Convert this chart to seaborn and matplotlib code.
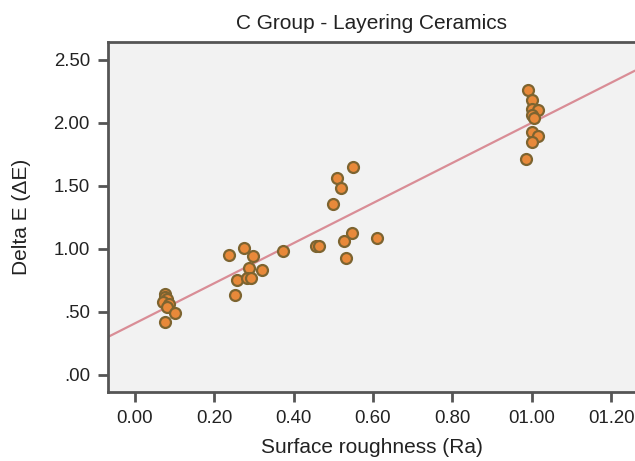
import matplotlib
matplotlib.use("Agg")
import matplotlib.pyplot as plt
import pandas as pd
import seaborn as sns

# Surface roughness (Ra) and colour change (delta E)
roughness = [
    0.075, 0.075, 0.08, 0.07, 0.085, 0.08, 0.10, 0.075,
    0.236, 0.274, 0.297, 0.372, 0.287, 0.32, 0.257, 0.282, 0.292, 0.252,
    0.549, 0.51, 0.52, 0.50, 0.546, 0.527, 0.61, 0.455, 0.465, 0.533,
    0.99, 1.00, 1.00, 1.015, 1.00, 1.005, 1.00, 1.015, 1.00, 0.985,
]
delta_e = [
    0.64, 0.62, 0.60, 0.58, 0.56, 0.54, 0.49, 0.42,
    0.95, 1.01, 0.94, 0.98, 0.85, 0.83, 0.75, 0.77, 0.77, 0.63,
    1.65, 1.56, 1.48, 1.36, 1.13, 1.06, 1.09, 1.02, 1.02, 0.93,
    2.26, 2.18, 2.11, 2.10, 2.06, 2.04, 1.93, 1.90, 1.85, 1.71,
]
x_ticks = [0.0, 0.2, 0.4, 0.6, 0.8, 1.0, 1.2]
x_tick_labels = ["0.00", "0.20", "0.40", "0.60", "0.80", "01.00", "01.20"]
y_ticks = [0.0, 0.5, 1.0, 1.5, 2.0, 2.5]
y_tick_labels = [".00", ".50", "1.00", "1.50", "2.00", "2.50"]

df = pd.DataFrame({"Ra": roughness, "dE": delta_e})

sns.set_style("ticks", {"axes.facecolor": "#f2f2f2"})
plt.rcParams["font.family"] = ["Liberation Sans", "DejaVu Sans"]

fig = plt.figure(figsize=(6.35, 4.61), dpi=100)
ax = fig.add_axes([0.170, 0.150, 0.830, 0.759])
ax.set_xlim(-0.068, 1.26)
ax.set_ylim(-0.135, 2.643)

sns.regplot(data=df, x="Ra", y="dE", ax=ax, scatter=False, ci=None, truncate=False,
            line_kws={"color": "#d98d96", "lw": 1.6, "zorder": 1})
sns.scatterplot(data=df, x="Ra", y="dE", ax=ax, s=62, color="#e8893a",
                edgecolor="#7d6430", linewidth=1.6, zorder=3)

ax.set_xticks(x_ticks)
ax.set_xticklabels(x_tick_labels)
ax.set_yticks(y_ticks)
ax.set_yticklabels(y_tick_labels)
ax.tick_params(axis="both", labelsize=13.4, length=7, width=2, color="#555555",
               labelcolor="#222222", pad=6)

for side in ["left", "top", "bottom"]:
    ax.spines[side].set_color("#555555")
    ax.spines[side].set_linewidth(2)
ax.spines["right"].set_visible(False)

ax.set_title("C Group - Layering Ceramics", fontsize=15, color="#222222", pad=9)
ax.set_xlabel("Surface roughness (Ra)", fontsize=15, color="#222222", labelpad=8)
ax.set_ylabel("Delta E (ΔE)", fontsize=15, color="#222222", labelpad=16)

fig.savefig("out.png", dpi=100)
